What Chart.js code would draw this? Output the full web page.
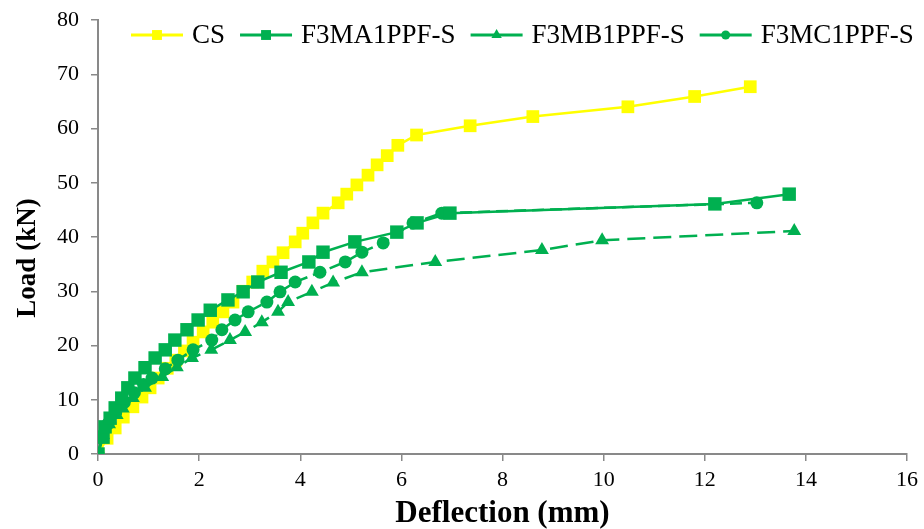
<!DOCTYPE html>
<html>
<head>
<meta charset="utf-8">
<script src="https://cdn.jsdelivr.net/npm/chart.js@4.4.0/dist/chart.umd.min.js"></script>
<style>
    html, body { margin: 0; padding: 0; background: #fff; }
    #wrap { width: 924px; height: 529px; }
</style>
</head>
<body>
<div id="wrap"><canvas id="chart" width="924" height="529"></canvas></div>
<script>
// Подписи серий
let seriesNames = ['CS', 'F3MA1PPF-S', 'F3MB1PPF-S', 'F3MC1PPF-S'];

// Прогиб (mm) и нагрузка (kN) для каждой серии
let csDefl = [0, 0.18, 0.34, 0.5, 0.69, 0.87, 1.03, 1.19, 1.37, 1.54, 1.71, 1.88, 2.08, 2.27, 2.47, 2.67, 2.87, 3.06, 3.26, 3.46, 3.66, 3.9, 4.05, 4.25, 4.45, 4.75, 4.92, 5.12, 5.34, 5.52, 5.72, 5.93, 6.3, 7.36, 8.6, 10.48, 11.8, 12.9];
let csLoad = [0, 2.9, 4.8, 6.8, 8.7, 10.5, 12.2, 14.0, 15.8, 17.3, 19.0, 20.6, 22.5, 24.3, 26.2, 28.0, 30.0, 31.7, 33.7, 35.4, 37.1, 39.1, 40.7, 42.6, 44.4, 46.3, 47.9, 49.6, 51.4, 53.3, 55.0, 56.9, 58.8, 60.5, 62.2, 64.0, 65.9, 67.7];

let maDefl = [0, 0.1, 0.14, 0.24, 0.34, 0.47, 0.59, 0.73, 0.93, 1.13, 1.33, 1.52, 1.76, 1.98, 2.22, 2.57, 2.87, 3.16, 3.62, 4.17, 4.45, 5.08, 5.91, 6.31, 6.96, 12.2, 13.67];
let maLoad = [0, 3.1, 5.0, 6.6, 8.5, 10.3, 12.2, 14.0, 15.9, 17.7, 19.2, 21.0, 22.9, 24.7, 26.5, 28.4, 29.9, 31.7, 33.5, 35.4, 37.2, 39.1, 40.9, 42.6, 44.4, 46.1, 47.9];

let mbDefl = [0, 0.1, 0.22, 0.37, 0.49, 0.69, 0.93, 1.27, 1.56, 1.86, 2.24, 2.61, 2.91, 3.24, 3.56, 3.76, 4.23, 4.65, 5.22, 6.67, 8.78, 9.97, 13.77];
let mbLoad = [0, 3.5, 5.5, 7.2, 8.4, 10.3, 12.2, 14.2, 16.0, 17.7, 19.2, 21.0, 22.5, 24.3, 26.2, 28.0, 29.9, 31.6, 33.5, 35.4, 37.6, 39.4, 41.1];

let mcDefl = [0, 0.08, 0.2, 0.35, 0.52, 0.72, 0.9, 1.07, 1.33, 1.58, 1.88, 2.25, 2.45, 2.71, 2.97, 3.34, 3.6, 3.9, 4.39, 4.89, 5.22, 5.64, 6.23, 6.8, 13.03];
let mcLoad = [0, 3.3, 5.6, 7.6, 9.5, 11.3, 12.8, 14.0, 15.7, 17.3, 19.2, 21.0, 22.9, 24.7, 26.2, 28.0, 29.9, 31.7, 33.5, 35.4, 37.2, 38.9, 42.6, 44.4, 46.3];

// Подписи осей
let xTitle = 'Deflection (mm)';
let yTitle = 'Load (kN)';

const YELLOW = '#FFFF00';
const GREEN = '#00B050';
const AXIS = '#898989';
const FONT = "'Liberation Serif', 'Times New Roman', serif";

function ToPoints(xs, ys)
{
    return xs.map((x, i) => ({ x: x, y: ys[i] }));
}

// Легенда внутри области графика: линия + маркер + подпись, и подпись оси Y
const insideLegend = {
    id: 'insideLegend',
    afterDatasetsDraw(chart) {
        let ctx = chart.ctx;
        let x = 131;
        let y = 35;
        let lineLen = 52;

        ctx.save();
        ctx.font = '27px ' + FONT;
        ctx.textBaseline = 'middle';

        chart.data.datasets.forEach(ds => {
            ctx.save();
            ctx.strokeStyle = ds.borderColor;
            ctx.lineWidth = 3;
            ctx.beginPath();
            ctx.moveTo(x, y);
            ctx.lineTo(x + lineLen, y);
            ctx.stroke();
            ctx.fillStyle = ds.pointBackgroundColor;
            ctx.strokeStyle = ds.pointBackgroundColor;
            Chart.helpers.drawPoint(ctx, {
                pointStyle: ds.pointStyle,
                radius: ds.legendRadius,
                rotation: 0,
                borderWidth: 0
            }, x + lineLen / 2, y);
            ctx.restore();

            x += lineLen + 9;
            ctx.fillStyle = '#000';
            ctx.fillText(ds.label, x, y + 1);
            x += ctx.measureText(ds.label).width + 15;
        });

        // Подпись оси Y (смещена вниз, как в оригинале)
        ctx.font = 'bold 27px ' + FONT;
        ctx.textAlign = 'center';
        ctx.translate(28, 258);
        ctx.rotate(-Math.PI / 2);
        ctx.fillText(yTitle, 0, 0);
        ctx.restore();
    }
};

function InitChart()
{
    let chart = document.getElementById('chart').getContext('2d');

    new Chart(chart, {
        type: 'scatter',
        data: {
            datasets: [
                {
                    label: seriesNames[0],
                    data: ToPoints(csDefl, csLoad),
                    showLine: true,
                    borderColor: YELLOW,
                    backgroundColor: YELLOW,
                    pointBackgroundColor: YELLOW,
                    pointBorderWidth: 0,
                    borderWidth: 2.5,
                    pointStyle: 'rect',
                    pointRadius: 9,
                    legendRadius: 7,
                    order: 1
                },
                {
                    label: seriesNames[1],
                    data: ToPoints(maDefl, maLoad),
                    showLine: true,
                    borderColor: GREEN,
                    backgroundColor: GREEN,
                    pointBackgroundColor: GREEN,
                    pointBorderWidth: 0,
                    borderWidth: 2.5,
                    pointStyle: 'rect',
                    pointRadius: 9.5,
                    legendRadius: 7,
                    order: 0
                },
                {
                    label: seriesNames[2],
                    data: ToPoints(mbDefl, mbLoad),
                    showLine: true,
                    borderColor: GREEN,
                    backgroundColor: GREEN,
                    pointBackgroundColor: GREEN,
                    pointBorderWidth: 0,
                    borderWidth: 2.5,
                    borderDash: [18, 8],
                    pointStyle: 'triangle',
                    pointRadius: 8,
                    legendRadius: 6,
                    order: 0
                },
                {
                    label: seriesNames[3],
                    data: ToPoints(mcDefl, mcLoad),
                    showLine: true,
                    borderColor: GREEN,
                    backgroundColor: GREEN,
                    pointBackgroundColor: GREEN,
                    pointBorderWidth: 0,
                    borderWidth: 2.5,
                    borderDash: [12, 6],
                    pointStyle: 'circle',
                    pointRadius: 6.5,
                    legendRadius: 4.5,
                    order: 0
                }
            ]
        },
        options: {
            responsive: false,
            animation: false,
            layout: {
                padding: { top: 20, right: 17, bottom: 0, left: 0 }
            },
            plugins: {
                legend: { display: false },
                tooltip: { enabled: false }
            },
            scales: {
                x: {
                    type: 'linear',
                    min: 0,
                    max: 16,
                    afterFit: s => { s.height = 75; s.paddingLeft = 0; s.paddingRight = 0; },
                    ticks: {
                        stepSize: 2,
                        color: '#000',
                        padding: 6,
                        font: { family: FONT, size: 22 }
                    },
                    grid: {
                        display: true,
                        drawOnChartArea: false,
                        tickLength: 7,
                        color: AXIS,
                        lineWidth: 1.5
                    },
                    border: { color: AXIS, width: 2 },
                    title: {
                        display: true,
                        text: xTitle,
                        color: '#000',
                        padding: { top: 0, bottom: 0 },
                        font: { family: FONT, size: 31, weight: 'bold', lineHeight: 1 }
                    }
                },
                y: {
                    min: 0,
                    max: 80,
                    afterFit: s => { s.width = 98; s.paddingTop = 0; s.paddingBottom = 0; },
                    ticks: {
                        stepSize: 10,
                        color: '#000',
                        padding: 12,
                        font: { family: FONT, size: 22 }
                    },
                    grid: {
                        display: true,
                        drawOnChartArea: false,
                        tickLength: 7,
                        color: AXIS,
                        lineWidth: 1.5
                    },
                    border: { color: AXIS, width: 2 }
                }
            }
        },
        plugins: [insideLegend]
    });
}

InitChart();
</script>
</body>
</html>
